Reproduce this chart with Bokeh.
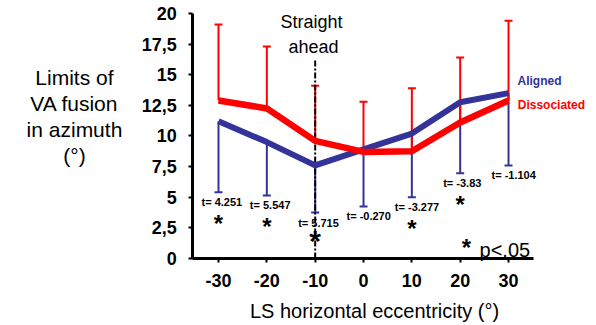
from bokeh.plotting import figure
from bokeh.models import ColumnDataSource, Whisker, TeeHead, Label, FixedTicker
from bokeh.core.properties import value
from bokeh.embed import file_html
from bokeh.resources import INLINE

# ---- data ----
eccentricity = [-30, -20, -10, 0, 10, 20, 30]
aligned_mean = [11.2, 9.5, 7.6, 8.9, 10.2, 12.75, 13.5]
aligned_lower = [5.4, 5.15, 3.75, 4.25, 5.0, 6.95, 7.6]
dissociated_mean = [12.9, 12.25, 9.6, 8.7, 8.75, 11.1, 12.9]
dissociated_upper = [19.1, 17.3, 14.1, 12.8, 13.9, 16.4, 19.4]
t_values = ["4.251", "5.547", "5.715", "-0.270", "-3.277", "-3.83", "-1.104"]
significant = [True, True, True, False, True, True, False]
straight_ahead = -10
straight_line_top = 16.2

y_ticks = [0, 2.5, 5, 7.5, 10, 12.5, 15, 17.5, 20]
y_tick_labels = ["0", "2,5", "5", "7,5", "10", "12,5", "15", "17,5", "20"]
x_ticks = [-30, -20, -10, 0, 10, 20, 30]
x_tick_labels = ["-30", "-20", "-10", "0", "10", "20", "30"]
x_axis_extent = (-35.3, 35.2)
y_axis_extent = (0, 20)

BLUE = "#333399"
RED = "#ff0000"
FONT = value("Liberation Sans")

p = figure(width=596, height=325, x_range=(-75.1, 48.2), y_range=(-5.47, 21.06),
           output_backend="svg", toolbar_location=None, min_border=0)
p.outline_line_color = None
p.grid.visible = False
p.background_fill_color = "white"

for ax in (p.xaxis, p.yaxis):
    ax.axis_line_width = 3
    ax.axis_line_color = "black"
    ax.major_tick_line_width = 2
    ax.major_tick_in = 0
    ax.major_tick_out = 4
    ax.minor_tick_line_color = None
    ax.major_label_text_font = "Liberation Sans"
    ax.major_label_text_font_style = "bold"
    ax.major_label_text_font_size = "18px"
    ax.major_label_text_color = "black"

p.xaxis.fixed_location = y_axis_extent[0]
p.xaxis.bounds = x_axis_extent
p.xaxis.ticker = FixedTicker(ticks=x_ticks)
p.xaxis.major_label_overrides = dict(zip(x_ticks, x_tick_labels))
p.xaxis.major_label_standoff = 12

p.yaxis.fixed_location = x_axis_extent[0]
p.yaxis.bounds = y_axis_extent
p.yaxis.ticker = FixedTicker(ticks=y_ticks)
p.yaxis.major_label_overrides = dict(zip(y_ticks, y_tick_labels))
p.yaxis.major_label_standoff = 12

# straight-ahead dash-dot line
p.segment(x0=[straight_ahead], y0=[0], x1=[straight_ahead], y1=[straight_line_top],
          line_color="black", line_width=2, line_dash="6 2 2 2")

src = ColumnDataSource(dict(x=eccentricity, a=aligned_mean, alo=aligned_lower,
                            d=dissociated_mean, dhi=dissociated_upper,
                            t=["t= " + t for t in t_values]))

blue_err = Whisker(source=src, base="x", upper="a", lower="alo", dimension="height",
                   line_color=BLUE, line_width=2, upper_head=None,
                   lower_head=TeeHead(size=8, line_color=BLUE, line_width=2))
red_err = Whisker(source=src, base="x", upper="dhi", lower="d", dimension="height",
                  line_color=RED, line_width=2, lower_head=None,
                  upper_head=TeeHead(size=8, line_color=RED, line_width=2))
p.add_layout(blue_err)
p.add_layout(red_err)

p.line("x", "a", source=src, line_color=BLUE, line_width=6, line_join="round")
p.line("x", "d", source=src, line_color=RED, line_width=6.5, line_join="round")

# t statistics under the aligned lower error bars
p.text("x", "alo", text="t", source=src, x_offset=-17, y_offset=10,
       text_font=FONT, text_font_style="bold", text_font_size="11px",
       text_align="left", text_baseline="middle", text_color="black")

# significance stars
sx = [x for x, s in zip(eccentricity, significant) if s and x != straight_ahead]
sy = [y for x, y, s in zip(eccentricity, aligned_lower, significant) if s and x != straight_ahead]
p.text(x=sx, y=sy, text=["*"] * len(sx), text_font_size="24px", y_offset=31,
       text_font=FONT, text_font_style="bold", text_align="center",
       text_baseline="middle", text_color="black")
bx = [x for x, s in zip(eccentricity, significant) if s and x == straight_ahead]
by = [y for x, y, s in zip(eccentricity, aligned_lower, significant) if s and x == straight_ahead]
p.text(x=bx, y=by, text=["*"] * len(bx), text_font_size="30px", y_offset=28,
       text_font=FONT, text_font_style="bold", text_align="center",
       text_baseline="middle", text_color="black")


def lab(x, y, text, size, color="black", style="normal", align="left", baseline="alphabetic"):
    p.add_layout(Label(x=x, y=y, text=text, text_font="Liberation Sans",
                       text_font_size=size, text_color=color, text_font_style=style,
                       text_align=align, text_baseline=baseline))


lab(21.3, 0.9, "*", "24px", style="bold", align="center", baseline="middle")
lab(24.0, 0.73, "p<.05", "20px")

lab(-10.76, 19.27, "Straight", "18px", align="center")
lab(-10.35, 17.3, "ahead", "18px", align="center")

lab(31.86, 14.45, "Aligned", "12px", color=BLUE, style="bold", baseline="middle")
lab(31.9, 12.49, "Dissociated", "12px", color=RED, style="bold", baseline="middle")

for txt, yy in zip(["Limits of", "VA fusion", "in azimuth", "(°)"], [14.78, 12.65, 10.53, 8.41]):
    lab(-59.8, yy, txt, "21px", align="center")

lab(2.28, -4.3, "LS horizontal eccentricity (°)", "20px", align="center")

open("out.html", "w").write(file_html(p, INLINE))
